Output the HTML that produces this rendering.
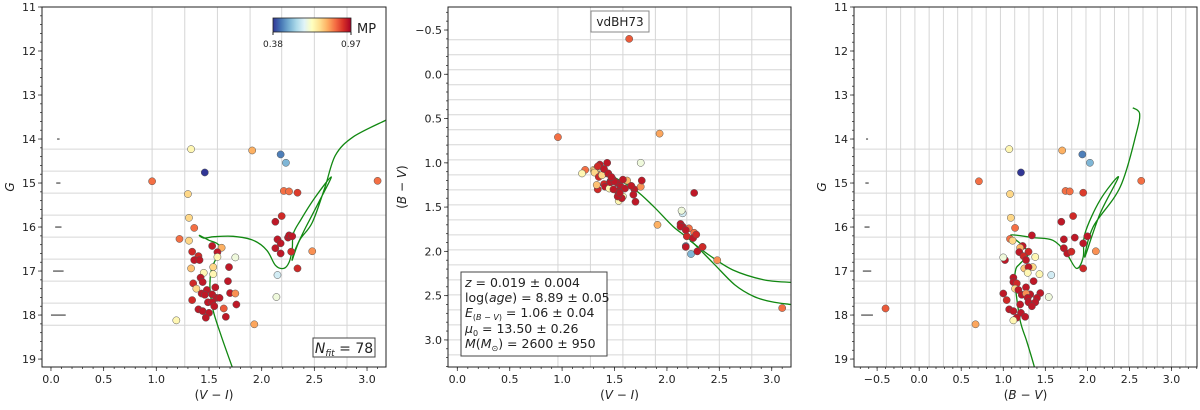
<!DOCTYPE html>
<html><head><meta charset="utf-8"><style>
body{margin:0;background:#fff;}
svg text{font-family:"DejaVu Sans","Liberation Sans",sans-serif;fill:#222;}
</style></head><body>
<svg id="fig" width="1200" height="405" xmlns="http://www.w3.org/2000/svg"></svg>
<script>
// star data
const VI=[1.33,1.91,2.18,2.23,1.46,0.96,3.10,1.30,2.21,2.26,2.34,1.31,1.36,2.13,2.19,1.22,1.31,1.53,1.62,1.58,1.34,2.15,2.18,2.25,2.26,2.29,2.13,2.18,2.28,2.48,1.40,1.36,1.41,1.58,1.75,1.33,1.54,1.69,2.34,1.45,1.54,2.15,1.42,1.44,1.35,1.68,1.56,1.38,1.48,1.43,1.46,1.53,1.70,1.75,2.14,1.57,1.60,1.34,1.49,1.53,1.55,1.76,1.40,1.44,1.64,1.50,1.47,1.66,1.19,1.93];
const GMAG=[14.23,14.26,14.35,14.54,14.76,14.96,14.95,15.25,15.18,15.19,15.22,15.79,16.02,15.88,15.75,16.27,16.31,16.43,16.47,16.57,16.56,16.28,16.37,16.24,16.19,16.21,16.48,16.60,16.56,16.55,16.66,16.75,16.75,16.68,16.69,16.94,16.91,16.91,16.94,17.04,17.07,17.09,17.15,17.25,17.28,17.23,17.37,17.40,17.43,17.51,17.54,17.53,17.50,17.51,17.59,17.61,17.61,17.66,17.71,17.71,17.80,17.76,17.87,17.91,17.85,17.95,18.06,18.04,18.12,18.21];
const BV=[1.07,1.70,1.94,2.03,1.21,0.71,2.64,1.08,1.74,1.79,1.95,1.09,1.14,1.69,1.83,1.08,1.11,1.23,1.20,1.19,1.30,1.72,1.95,1.85,1.34,2.00,1.72,1.76,1.81,2.10,1.24,1.02,1.27,1.38,1.00,1.25,1.35,1.30,1.95,1.29,1.43,1.57,1.12,1.12,1.16,1.36,1.27,1.14,1.18,1.00,1.22,1.32,1.44,1.27,1.54,1.40,1.29,1.04,1.30,1.38,1.34,1.20,1.07,1.12,-0.40,1.21,1.16,1.26,1.12,0.67];
const MP=[0.69,0.79,0.45,0.51,0.38,0.85,0.85,0.745,0.85,0.85,0.90,0.745,0.85,0.94,0.92,0.85,0.745,0.94,0.79,0.94,0.92,0.94,0.94,0.94,0.94,0.94,0.94,0.94,0.92,0.82,0.92,0.94,0.94,0.69,0.645,0.77,0.745,0.94,0.92,0.69,0.69,0.60,0.94,0.94,0.92,0.94,0.94,0.745,0.94,0.94,0.94,0.94,0.94,0.82,0.645,0.94,0.94,0.92,0.94,0.94,0.94,0.94,0.94,0.94,0.87,0.94,0.94,0.94,0.69,0.80];
// isochrone data
const isoVI=[1.72,1.62,1.54,1.51,1.52,1.56,1.61,1.58,1.50,1.41,1.45,1.55,1.73,1.92,2.05,2.13,2.21,2.26,2.29,2.30,2.37,2.50,2.66,2.55,2.42,2.32,2.29,2.36,2.48,2.60,2.70,2.87,3.18];
const isoG1=[19.18,18.5,17.9,17.4,17.0,16.75,16.5,16.38,16.3,16.19,16.25,16.22,16.21,16.30,16.53,16.87,16.94,16.8,16.5,16.15,15.84,15.35,14.86,15.4,16.0,16.5,16.75,16.3,15.9,15.1,14.37,13.95,13.57];
const isoBV=[1.37,1.28,1.20,1.14,1.15,1.20,1.30,1.20,1.09,1.35,1.59,1.75,1.87,1.95,1.97,2.15,2.37,2.15,1.97,2.07,2.39,2.58,2.62,2.54];
const isoG3=[19.18,18.6,18.12,17.28,16.95,16.83,16.6,16.37,16.18,16.24,16.3,16.6,16.94,16.68,16.15,15.39,14.86,15.7,16.68,15.99,15.09,13.88,13.42,13.29];
const iso2VI=[1.40,1.68,1.87,2.06,2.22,2.44,2.65,2.83,3.0,3.18];
const iso2BV=[1.10,1.29,1.49,1.72,1.87,2.13,2.38,2.51,2.57,2.60];
const iso2bVI=[2.22,2.40,2.63,2.92,3.18];
const iso2bBV=[1.88,2.04,2.21,2.32,2.35];
const errG=[14,15,16,17,18];
const errW=[0.012,0.02,0.03,0.05,0.07];
const xTicks=[0,0.5,1,1.5,2,2.5,3];
const x3Ticks=[-0.5,0,0.5,1,1.5,2,2.5,3];
const gTicks=[11,12,13,14,15,16,17,18,19];
const bvTicks=[-0.5,0,0.5,1,1.5,2,2.5,3];

const NS="http://www.w3.org/2000/svg";
const svg=document.getElementById('fig');
function mk(tag,attrs,parent){const e=document.createElementNS(NS,tag);for(const k in attrs)e.setAttribute(k,attrs[k]);(parent||svg).appendChild(e);return e;}
const stops=[[0,[49,54,149]],[0.1,[69,117,180]],[0.2,[116,173,209]],[0.3,[171,217,233]],[0.4,[224,243,248]],[0.5,[255,255,191]],[0.6,[254,224,144]],[0.7,[253,174,97]],[0.8,[244,109,67]],[0.9,[215,48,39]],[1,[165,0,38]]];
function cmap(m){let t=Math.max(0,Math.min(1,(m-0.38)/0.59));for(let i=0;i<stops.length-1;i++){const a=stops[i],b=stops[i+1];if(t<=b[0]){const f=(t-a[0])/(b[0]-a[0]);return 'rgb('+a[1].map((v,j)=>Math.round(v+(b[1][j]-v)*f)).join(',')+')';}}return 'rgb(165,0,38)';}

function panel(o){
  const g=mk('g',{});
  
  
  const X=v=>o.x0+(v-o.xa)/(o.xb-o.xa)*(o.x1-o.x0);
  const Y=v=>o.y0+(v-o.ya)/(o.yb-o.ya)*(o.y1-o.y0);
  o.X=X;o.Y=Y;
  o.vgrid.forEach(v=>{const l=mk('line',{x1:X(v),x2:X(v),y1:o.y0,y2:o.y1,stroke:'#d6d6d6','stroke-width':1},g);});
  o.hgrid.forEach(v=>{const l=mk('line',{x1:o.x0,x2:o.x1,y1:Y(v),y2:Y(v),stroke:'#d6d6d6','stroke-width':1},g);});
  for(let v=Math.ceil(o.xa*10)/10;v<=o.xb+1e-9;v+=0.1){const x=X(v);mk('line',{x1:x,x2:x,y1:o.y1,y2:o.y1+2,stroke:'#333','stroke-width':0.8},g);}
  o.xt.forEach(v=>{const x=X(v);mk('line',{x1:x,x2:x,y1:o.y1,y2:o.y1+4,stroke:'#333','stroke-width':0.8},g);const t=mk('text',{x:x,y:o.y1+16,'text-anchor':'middle','font-size':11},g);t.textContent=(v<0?'\u2212':'')+Math.abs(v).toFixed(1);});
  for(let v=Math.ceil(Math.min(o.ya,o.yb)/o.ym)*o.ym;v<=Math.max(o.ya,o.yb)+1e-9;v+=o.ym){const y=Y(v);mk('line',{x1:o.x0-2,x2:o.x0,y1:y,y2:y,stroke:'#333','stroke-width':0.8},g);}
  o.yt.forEach(v=>{const y=Y(v);mk('line',{x1:o.x0-4,x2:o.x0,y1:y,y2:y,stroke:'#333','stroke-width':0.8},g);const t=mk('text',{x:o.x0-6,y:y+4,'text-anchor':'end','font-size':11},g);t.textContent=o.yfmt(v);});
  const xl=mk('text',{x:(o.x0+o.x1)/2,y:o.y1+32,'text-anchor':'middle','font-size':12},g);xl.innerHTML=o.xlabel;
  
  const yl=mk('text',{x:o.ylx,y:(o.y0+o.y1)/2,'text-anchor':'middle','font-size':12,transform:'rotate(-90 '+o.ylx+' '+(o.y0+o.y1)/2+')'},g);yl.innerHTML=o.ylabel;
  
  o.g=g;return o;
}
function line(o,xs,ys,name){
  const P=xs.map((v,i)=>[o.X(v),o.Y(ys[i])]);
  let d='M'+P[0][0].toFixed(1)+','+P[0][1].toFixed(1);
  for(let i=0;i<P.length-1;i++){
    const p0=P[Math.max(0,i-1)],p1=P[i],p2=P[i+1],p3=P[Math.min(P.length-1,i+2)];
    const c1=[p1[0]+(p2[0]-p0[0])/6,p1[1]+(p2[1]-p0[1])/6],c2=[p2[0]-(p3[0]-p1[0])/6,p2[1]-(p3[1]-p1[1])/6];
    d+=' C'+c1.map(v=>v.toFixed(1)).join(',')+' '+c2.map(v=>v.toFixed(1)).join(',')+' '+p2.map(v=>v.toFixed(1)).join(',');
  }
  const p=mk('path',{d:d,fill:'none',stroke:'#118811','stroke-width':1.3,'clip-path':'url(#'+o.clip+')'},o.g);
  }
function stars(o,xs,ys){xs.forEach((v,i)=>{const c=mk('circle',{cx:o.X(v),cy:o.Y(ys[i]),r:3.6,fill:cmap(MP[i]),stroke:'#555','stroke-width':0.5},o.g);
  });}
function frame(o){mk('rect',{x:o.x0,y:o.y0,width:o.x1-o.x0,height:o.y1-o.y0,fill:'none',stroke:'#222','stroke-width':1},o.g);}
function clip(id,o){const d=mk('clipPath',{id:id});mk('rect',{x:o.x0,y:o.y0,width:o.x1-o.x0,height:o.y1-o.y0},d);o.clip=id;}
function errs(o,xv){errG.forEach((g,i)=>{const l=mk('line',{x1:o.X(xv-errW[i]),x2:o.X(xv+errW[i]),y1:o.Y(g),y2:o.Y(g),stroke:'#222','stroke-width':1},o.g);});}
const f0=v=>String(v);const f1=v=>(v<0?'\u2212':'')+Math.abs(v).toFixed(1);
const vg1=[0.96,1.27,1.58,1.89,2.19,2.50,2.81];
const hg1=[14.23,14.73,15.23,15.73,16.23,16.73,17.23,17.73,18.23];
const fine=[];for(let k=0;k<22;k++)fine.push(-0.39+0.1695*k);

const p1=panel({name:'panel-vi-g',x0:42,x1:386,y0:7,y1:367,xa:-0.085,xb:3.18,ya:11.0,yb:19.18,xt:xTicks,yt:gTicks,ym:0.2,yfmt:f0,vgrid:vg1,hgrid:hg1,xlabel:'(<tspan font-style="italic">V</tspan> \u2212 <tspan font-style="italic">I</tspan>)',ylabel:'<tspan font-style="italic">G</tspan>',ylx:14});
clip('c1',p1);errs(p1,0.07);line(p1,isoVI,isoG1,'isochrone');stars(p1,VI,GMAG);frame(p1);
const p2=panel({name:'panel-vi-bv',x0:448,x1:791,y0:7,y1:367,xa:-0.089,xb:3.184,ya:-0.76,yb:3.306,xt:xTicks,yt:bvTicks,ym:0.1,yfmt:f1,vgrid:vg1,hgrid:fine,xlabel:'(<tspan font-style="italic">V</tspan> \u2212 <tspan font-style="italic">I</tspan>)',ylabel:'(<tspan font-style="italic">B</tspan> \u2212 <tspan font-style="italic">V</tspan>)',ylx:406});
clip('c2',p2);line(p2,iso2VI,iso2BV,'isochrone');line(p2,iso2bVI,iso2bBV,'isochrone-branch');stars(p2,VI,BV);frame(p2);
const p3=panel({name:'panel-bv-g',x0:854,x1:1197,y0:7,y1:367,xa:-0.775,xb:3.303,ya:11.0,yb:19.18,xt:x3Ticks,yt:gTicks,ym:0.2,yfmt:f0,vgrid:fine,hgrid:hg1,xlabel:'(<tspan font-style="italic">B</tspan> \u2212 <tspan font-style="italic">V</tspan>)',ylabel:'<tspan font-style="italic">G</tspan>',ylx:826});
clip('c3',p3);errs(p3,-0.62);line(p3,isoBV,isoG3,'isochrone');stars(p3,BV,GMAG);frame(p3);

const grad=mk('linearGradient',{id:'cb',x1:0,x2:1,y1:0,y2:0});
for(let i=0;i<=10;i++)mk('stop',{offset:i/10,'stop-color':cmap(0.38+0.059*i)},grad);
const cb=mk('rect',{x:273,y:18,width:78,height:14,fill:'url(#cb)',stroke:'#222','stroke-width':0.8});

[[273,'0.38'],[351,'0.97']].forEach(a=>{mk('line',{x1:a[0],x2:a[0],y1:32,y2:35,stroke:'#222'});const t=mk('text',{x:a[0],y:47,'text-anchor':'middle','font-size':9});t.textContent=a[1];});
const mp=mk('text',{x:357,y:33,'font-size':13});mp.textContent='MP';


const nb=mk('g',{});
mk('rect',{x:313,y:338,width:62,height:19,fill:'#fff',stroke:'#444','stroke-width':1},nb);
const nt=mk('text',{x:344,y:353,'text-anchor':'middle','font-size':14},nb);nt.innerHTML='<tspan font-style="italic">N</tspan><tspan font-style="italic" font-size="9" dy="3">fit</tspan><tspan dy="-3"> = 78</tspan>';

const vb=mk('g',{});
mk('rect',{x:591,y:11,width:58,height:21,fill:'#fff',stroke:'#888','stroke-width':1},vb);
const vt=mk('text',{x:620,y:26,'text-anchor':'middle','font-size':12},vb);vt.textContent='vdBH73';

const pb=mk('g',{});
mk('rect',{x:461,y:272,width:146,height:84,fill:'#fff',stroke:'#444','stroke-width':1},pb);
const lines=['<tspan font-style="italic">z</tspan> = 0.019 \u00b1 0.004','log(<tspan font-style="italic">age</tspan>) = 8.89 \u00b1 0.05','<tspan font-style="italic">E</tspan><tspan font-size="8" dy="3">(<tspan font-style="italic">B</tspan> \u2212 <tspan font-style="italic">V</tspan>)</tspan><tspan dy="-3"> = 1.06 \u00b1 0.04</tspan>','<tspan font-style="italic">\u03bc</tspan><tspan font-size="8" dy="3">0</tspan><tspan dy="-3"> = 13.50 \u00b1 0.26</tspan>','<tspan font-style="italic">M</tspan>(<tspan font-style="italic">M</tspan><tspan font-size="8" dy="3">\u2299</tspan><tspan dy="-3">) = 2600 \u00b1 950</tspan>'];
const ly=[287,302,317,333,348];
lines.forEach((s,i)=>{const t=mk('text',{x:465,y:ly[i],'font-size':12.5},pb);t.innerHTML=s;});
</script>
</body></html>
